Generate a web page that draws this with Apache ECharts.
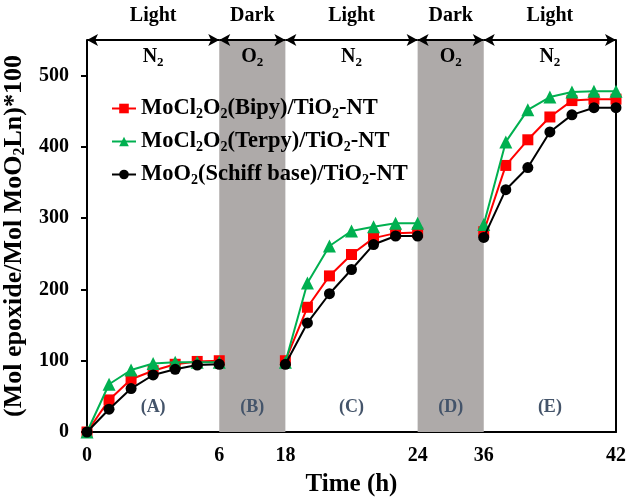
<!DOCTYPE html>
<html>
<head>
<meta charset="utf-8">
<script src="https://cdn.jsdelivr.net/npm/echarts@6/dist/echarts.min.js"></script>
<style>html,body{margin:0;padding:0;background:#fff}#c{width:630px;height:497px}</style>
</head>
<body>
<div id="c"></div>
<script>
// ---- data ----
const hours = [0,1,2,3,4,5,6, 18,19,20,21,22,23,24, 36,37,38,39,40,41,42];
const bipy   = [0,45,74,86,95,99,100, 100,175,219,249,272,279,280, 281,374,410,442,465,467,467];
const terpy  = [0,67,87,96,98,98,98, 98,209,261,282,288,293,293, 291,407,452,470,477,478,478];
const schiff = [0,32,61,80,88,94,95, 95,153,194,228,263,275,275, 273,340,371,421,445,455,455];
const seriesNames = ['MoCl2O2(Bipy)/TiO2-NT','MoCl2O2(Terpy)/TiO2-NT','MoO2(Schiff base)/TiO2-NT'];
const timeTicks = [0, 6, 18, 24, 36, 42];
const yTicks = [0, 100, 200, 300, 400, 500];
const phaseBounds = [0, 6, 18, 24, 36, 42];
const phases = ['Light','Dark','Light','Dark','Light'];
const gases = ['N2','O2','N2','O2','N2'];
const panels = ['(A)','(B)','(C)','(D)','(E)'];
const gapAfter = [6, 24];

// ---- compressed time scale: dark periods drawn at quarter width ----
function toAxis(h){
  if (h <= 6) return h;
  if (h <= 18) return 6 + (h - 6) * 0.25;
  if (h <= 24) return h - 9;
  if (h <= 36) return 15 + (h - 24) * 0.25;
  return h - 18;
}
const YMAX = 550;
const FONT = 'Liberation Serif';
function sub(s){ return s.replace(/([A-Za-z])2/g, '$1{s|2}'); }
function build(vals){
  const out = [];
  hours.forEach((h,i) => {
    out.push([toAxis(h), vals[i]]);
    if (gapAfter.includes(h)) out.push([toAxis(h) + 1, '-']);
  });
  return out;
}
const subStyle = (fs) => ({ s: { fontSize: fs, fontWeight: 'bold', fontFamily: FONT, color: '#000', verticalAlign: 'bottom', lineHeight: Math.round(fs*0.85) } });
const bandColor = i => (phases[i] === 'Dark' ? '#AEAAA9' : 'rgba(0,0,0,0)');
const areaPairs = () => phases.map((p,i) => [
  { xAxis: toAxis(phaseBounds[i]), name: String(i), itemStyle: { color: bandColor(i) } },
  { xAxis: toAxis(phaseBounds[i+1]) }
]);

const chart = echarts.init(document.getElementById('c'), null, { renderer: 'canvas' });
const colors = ['#FF0000', '#00B050', '#000000'];
const symbols = ['rect', 'triangle', 'circle'];
const sizes = [11, 13, 11];
const dataSets = [bipy, terpy, schiff];

const series = dataSets.map((vals, k) => ({
  name: seriesNames[k],
  type: 'line',
  data: build(vals),
  color: colors[k],
  symbol: symbols[k],
  symbolSize: sizes[k],
  showAllSymbol: true,
  lineStyle: { width: 2, color: colors[k] },
  itemStyle: { color: colors[k] },
  connectNulls: false,
  clip: false,
  z: 3 + k
}));

series[0].markArea = {
  silent: true,
  label: {
    show: true, position: 'insideBottom', distance: 16,
    formatter: p => panels[+p.name],
    color: '#44546A', fontFamily: FONT, fontWeight: 'bold', fontSize: 18
  },
  data: areaPairs()
};
series[1].markArea = {
  silent: true,
  label: {
    show: true, position: 'top', distance: 14,
    formatter: p => phases[+p.name],
    color: '#000', fontFamily: FONT, fontWeight: 'bold', fontSize: 20
  },
  data: areaPairs().map(pr => [Object.assign({}, pr[0], { itemStyle: { color: 'rgba(0,0,0,0)' } }), pr[1]])
};
series[2].markArea = {
  silent: true,
  label: {
    show: true, position: 'insideTop', distance: 5,
    formatter: p => sub(gases[+p.name]),
    color: '#000', fontFamily: FONT, fontWeight: 'bold', fontSize: 20, lineHeight: 24,
    rich: subStyle(13)
  },
  data: areaPairs().map(pr => [Object.assign({}, pr[0], { itemStyle: { color: 'rgba(0,0,0,0)' } }), pr[1]])
};
series[0].markLine = {
  silent: true,
  symbol: ['arrow', 'arrow'],
  symbolSize: [9, 11],
  label: { show: false },
  lineStyle: { color: '#000', width: 2, type: 'solid' },
  data: phases.map((p,i) => [
    { coord: [toAxis(phaseBounds[i]), YMAX] },
    { coord: [toAxis(phaseBounds[i+1]), YMAX] }
  ])
};

const xLabel = {};
timeTicks.forEach(t => { xLabel[toAxis(t)] = String(t); });

chart.setOption({
  animation: false,
  backgroundColor: '#fff',
  grid: { left: 87, right: 14, top: 40, bottom: 65, containLabel: false, outerBoundsMode: 'none' },
  legend: {
    orient: 'vertical', left: 106, top: 91,
    itemWidth: 24, itemHeight: 12, itemGap: 8,
    data: seriesNames,
    formatter: n => sub(n),
    textStyle: {
      fontFamily: FONT, fontWeight: 'bold', fontSize: 22.5, color: '#000', lineHeight: 25,
      rich: subStyle(14)
    }
  },
  xAxis: {
    type: 'value', min: 0, max: 24,
    axisLine: { lineStyle: { color: '#000', width: 2 } },
    axisTick: { show: false },
    splitLine: { show: false },
    axisLabel: {
      customValues: timeTicks.map(toAxis),
      formatter: v => xLabel[v] !== undefined ? xLabel[v] : '',
      fontFamily: FONT, fontWeight: 'bold', fontSize: 20, color: '#000', margin: 14
    },
    name: 'Time (h)', nameLocation: 'middle', nameGap: 40,
    nameTextStyle: { fontFamily: FONT, fontWeight: 'bold', fontSize: 25, color: '#000' }
  },
  yAxis: [{
    type: 'value', min: 0, max: YMAX,
    axisLine: { show: true, lineStyle: { color: '#000', width: 2 } },
    axisTick: { show: true, customValues: yTicks, length: 6, lineStyle: { color: '#000', width: 2 } },
    splitLine: { show: false },
    axisLabel: {
      customValues: yTicks,
      fontFamily: FONT, fontWeight: 'bold', fontSize: 20, color: '#000', margin: 18
    },
    name: sub('(Mol epoxide/Mol MoO2Ln)*100'), nameLocation: 'middle', nameGap: 51, nameRotate: 90,
    nameTextStyle: { fontFamily: FONT, fontWeight: 'bold', fontSize: 26, color: '#000', lineHeight: 28, rich: subStyle(16) }
  }, {
    type: 'value', min: 0, max: YMAX, position: 'right',
    axisLine: { show: true, lineStyle: { color: '#000', width: 2 } },
    axisTick: { show: false }, axisLabel: { show: false }, splitLine: { show: false }
  }],
  series: series
});
</script>
</body>
</html>
